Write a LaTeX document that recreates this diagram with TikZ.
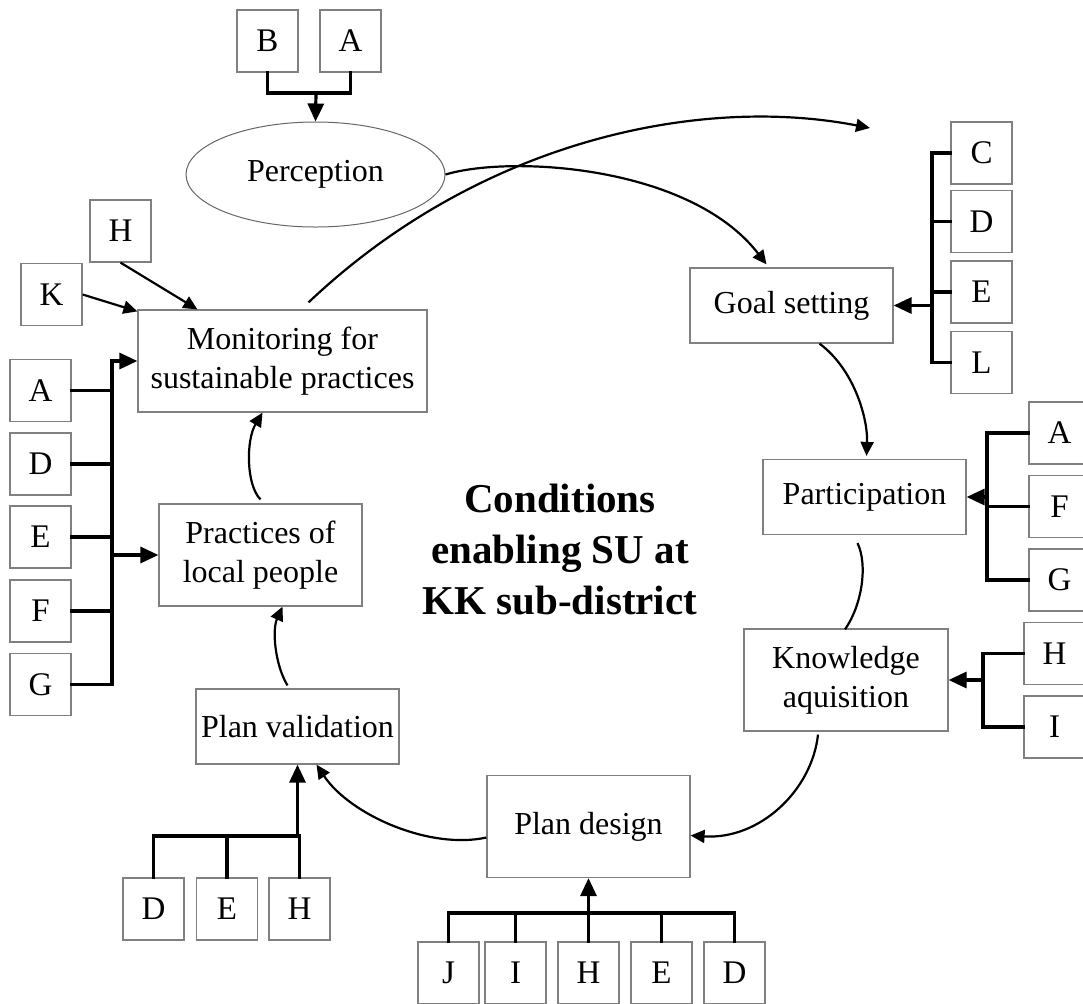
\documentclass[tikz,border=0pt]{standalone}
\usepackage{fontspec}
\setmainfont{Liberation Serif}
\usetikzlibrary{arrows.meta,calc,shapes.geometric}

\begin{document}
\begin{tikzpicture}[x=0.5pt, y=-0.5pt, >={Triangle[length=7pt,width=6.5pt]}]
      \tikzset{
  letter/.style={
    rectangle,
    draw=black!50,
    line width=0.6pt,
    minimum width=30.5pt,
    minimum height=31pt,
    inner sep=0pt,
    font=\fontsize{16.5}{19.5}\selectfont
  },
  stage/.style={
    rectangle,
    draw=black!50,
    line width=0.6pt,
    minimum width=101.5pt,
    minimum height=37.5pt,
    inner sep=0pt,
    align=center,
    font=\fontsize{16}{19.5}\selectfont
  },
  tall/.style={minimum height=51pt},
  bus/.style={line width=1.6pt, line cap=rect},
  feed/.style={bus, -{Triangle[length=9pt,width=8pt]}},
  flow/.style={line width=1.1pt, ->}
}

\useasboundingbox (0,0) rectangle (1083,1003);

% stages of the cycle
\node [stage, ellipse, draw=black!60, line width=0.5pt, minimum width=129.5pt, minimum height=52.5pt] (perception) at (315.5,174.5) {Perception};
\node [stage] (goal) at (791.5,305.5) {Goal setting};
\node [stage] (participation) at (864.5,497) {Participation};
\node [stage, tall, minimum width=102pt] (knowledge) at (846,680) {Knowledge\\aquisition};
\node [stage, tall] (design) at (588.5,826.5) {Plan design};
\node [stage] (validation) at (297.5,726.5) {Plan validation};
\node [stage, tall] (practices) at (260.5,555) {Practices of\\local people};
\node [stage, tall, minimum width=144.5pt] (monitoring) at (282.5,361) {Monitoring for\\sustainable practices};

\node [align=center, font=\fontsize{20.5}{25.5}\selectfont\bfseries] (title) at (560,550) {Conditions\\enabling SU at\\KK sub-district};

% condition boxes
\foreach \l/\x in {B/267.5, A/350.5}
  \node [letter] (perc-\l) at (\x,41) {\l};
\node [letter] (mon-H) at (120.5,231) {H};
\node [letter] (mon-K) at (51.5,294.5) {K};
\foreach \l/\y in {A/390.5, D/464, E/537, F/611, G/684.5}
  \node [letter] (left-\l) at (40.5,\y) {\l};
\foreach \l/\y in {C/153, D/221.5, E/292, L/362.5}
  \node [letter] (goal-\l) at (981.5,\y) {\l};
\foreach \l/\y in {A/433, F/506.5, G/580}
  \node [letter] (part-\l) at (1059.5,\y) {\l};
\foreach \l/\y in {H/653.5, I/727}
  \node [letter] (know-\l) at (1054.5,\y) {\l};
\foreach \l/\x in {D/153.5, E/227, H/299.5}
  \node [letter] (val-\l) at (\x,909) {\l};
\foreach \l/\x in {J/448.5, I/515.5, H/588.5, E/661.5, D/734.5}
  \node [letter] (des-\l) at (\x,973) {\l};

% perception
\coordinate (perc-bus) at (316,93);
\draw [bus] (perc-B.south) |- (perc-bus) -| (perc-A.south);
\draw [feed] (perc-bus) -- (perception.north);

% monitoring and practices
\draw [flow] (mon-H.south) -- ($(monitoring.north west)+(60,0)$);
\draw [flow] (mon-K.east) -- ($(monitoring.north west)+(0,2)$);
\coordinate (left-bus) at (112,0);
\foreach \l in {A,D,E,F,G}
  \draw [bus] (left-\l.east) -- (left-\l.east -| left-bus);
\draw [feed] (left-G.east -| left-bus) |- (monitoring.west);
\draw [feed] (left-bus |- practices.west) -- (practices.west);

% goal setting
\coordinate (goal-bus) at (932,0);
\foreach \l in {C,D,E,L}
  \draw [bus] (goal-\l.west) -- (goal-\l.west -| goal-bus);
\draw [bus] (goal-C.west -| goal-bus) -- (goal-L.west -| goal-bus);
\draw [feed] (goal-bus |- goal.east) -- (goal.east);

% participation
\coordinate (part-bus) at (987,0);
\foreach \l in {A,F,G}
  \draw [bus] (part-\l.west) -- (part-\l.west -| part-bus);
\draw [bus] (part-A.west -| part-bus) -- (part-G.west -| part-bus);
\draw [feed] (part-bus |- participation.east) -- (participation.east);

% knowledge
\coordinate (know-bus) at (983,0);
\foreach \l in {H,I}
  \draw [bus] (know-\l.west) -- (know-\l.west -| know-bus);
\draw [bus] (know-H.west -| know-bus) -- (know-I.west -| know-bus);
\draw [feed] (know-bus |- knowledge.east) -- (knowledge.east);

% validation
\coordinate (val-bus) at (0,836);
\foreach \l in {D,E,H}
  \draw [bus] (val-\l.north) -- (val-\l.north |- val-bus);
\draw [bus] (val-D.north |- val-bus) -- (val-H.north |- val-bus);
\draw [feed] (validation.south |- val-bus) -- (validation.south);

% design
\coordinate (des-bus) at (0,913);
\foreach \l in {J,I,H,E,D}
  \draw [bus] (des-\l.north) -- (des-\l.north |- des-bus);
\draw [bus] (des-J.north |- des-bus) -- (des-D.north |- des-bus);
\draw [feed] (design.south |- des-bus) -- (design.south);

% the cycle
\coordinate (next-round) at (870,128);
\draw [flow] ($(monitoring.north)+(26,-7)$) .. controls (480,140) and (700,95) .. (next-round);
\draw [flow] (perception.east) .. controls (510,155) and (690,165) .. ($(goal.north)+(-25,-3)$);
\draw [flow] ($(goal.south)+(28,0)$) .. controls (855,370) and (868,420) .. ($(participation.north)+(2,-3)$);
\draw [line width=1.1pt] ($(participation.south)+(-7,8)$) .. controls (868,565) and (862,605) .. ($(knowledge.north)+(-1,1)$);
\draw [flow] ($(knowledge.south)+(-28,3)$) .. controls (812,790) and (760,840) .. ($(design.east)+(0,9)$);
\draw [flow] ($(design.west)+(0,11)$) .. controls (430,850) and (350,815) .. ($(validation.south)+(19,0)$);
\draw [flow] ($(validation.north)+(-10,-3)$) .. controls (275,665) and (272,630) .. ($(practices.south)+(22,0)$);
\draw [flow] ($(practices.north)+(0,-4)$) .. controls (246,485) and (246,440) .. ($(monitoring.south)+(-20,0)$);
    \end{tikzpicture}
\end{document}
